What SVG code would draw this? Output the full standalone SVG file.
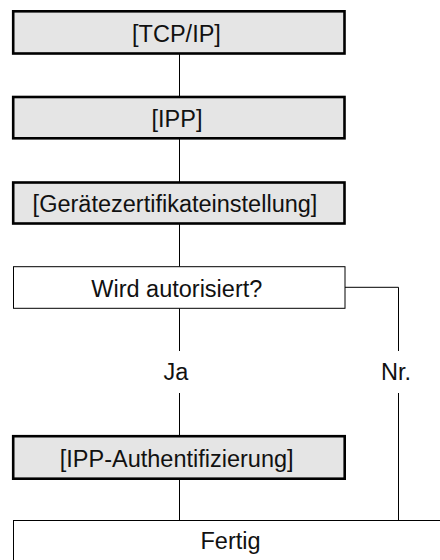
<svg xmlns="http://www.w3.org/2000/svg" width="440" height="560" viewBox="0 0 440 560">
<style>
.step{fill:#e5e5e5;stroke:#000;stroke-width:2.6}
.plain{fill:#fff;stroke:#000;stroke-width:1}
.lbl{font-family:"Liberation Sans",Arial,Helvetica,sans-serif;font-size:23.5px;fill:#111;text-anchor:middle}
.conn{fill:none;stroke:#000;stroke-width:1}
</style>
<rect width="440" height="560" fill="#fff"/>
<g id="connectors">
<path class="conn" d="M179.5 53.5V97"/>
<path class="conn" d="M179.5 138.3V182.5"/>
<path class="conn" d="M179.5 223.5V266.7"/>
<path class="conn" d="M179.5 308.3V351"/>
<path class="conn" d="M179.5 393V436"/>
<path class="conn" d="M179.5 478.7V520.5"/>
<path class="conn" d="M345 287.3H398.5V351"/>
<path class="conn" d="M398.5 393V520.5"/>
<text class="lbl" x="175.8" y="380">Ja</text>
<text class="lbl" x="396" y="380">Nr.</text>
</g>
<g id="tcpip">
<rect class="step" x="13.2" y="11.3" width="331.3" height="42.2"/>
<text class="lbl" x="176.5" y="41.7">[TCP/IP]</text>
</g>
<g id="ipp">
<rect class="step" x="13.2" y="97" width="331.3" height="41.3"/>
<text class="lbl" x="177" y="126.7">[IPP]</text>
</g>
<g id="zertifikat">
<rect class="step" x="13.2" y="182.5" width="331.3" height="41"/>
<text class="lbl" x="175" y="212">[Gerätezertifikateinstellung]</text>
</g>
<g id="autorisiert">
<rect class="plain" x="13.5" y="266.7" width="331.5" height="41.6"/>
<text class="lbl" x="176.8" y="296.7">Wird autorisiert?</text>
</g>
<g id="ippauth">
<rect class="step" x="13.2" y="436.2" width="331.5" height="42.5"/>
<text class="lbl" x="176.7" y="466.5">[IPP-Authentifizierung]</text>
</g>
<g id="fertig">
<rect class="plain" x="13.5" y="520.5" width="440" height="60"/>
<text class="lbl" x="230.5" y="549.3">Fertig</text>
</g>
</svg>
